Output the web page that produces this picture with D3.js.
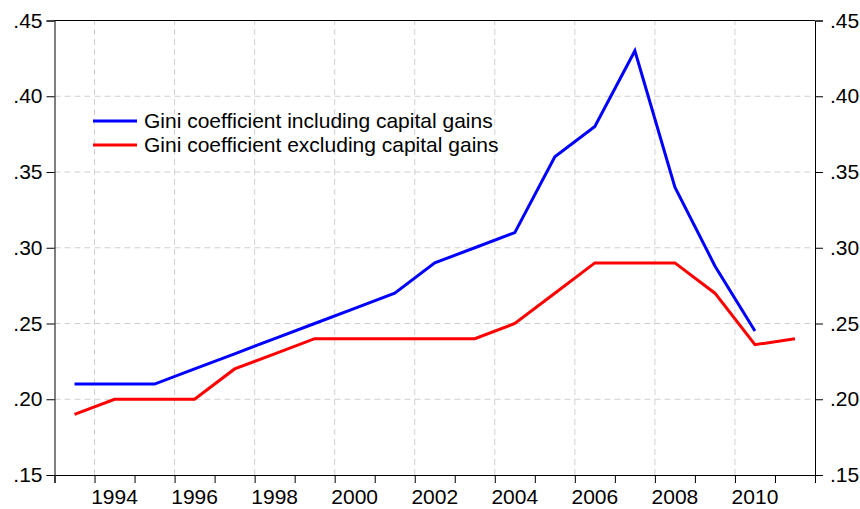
<!DOCTYPE html>
<html>
<head>
<meta charset="utf-8">
<script src="https://cdn.jsdelivr.net/npm/d3@7/dist/d3.min.js"></script>
<style>
  body { margin: 0; background: #fff; }
  svg { display: block; }
</style>
</head>
<body>
<svg id="chart"></svg>
<script>
// annual observations, plotted at the middle of each year
const years = [1993, 1994, 1995, 1996, 1997, 1998, 1999, 2000, 2001, 2002,
               2003, 2004, 2005, 2006, 2007, 2008, 2009, 2010, 2011];
const giniIncl = [0.21, 0.21, 0.21, 0.22, 0.23, 0.24, 0.25, 0.26, 0.27, 0.29,
                  0.30, 0.31, 0.36, 0.38, 0.43, 0.34, 0.288, 0.245, null];
const giniExcl = [0.19, 0.20, 0.20, 0.20, 0.22, 0.23, 0.24, 0.24, 0.24, 0.24,
                  0.24, 0.25, 0.27, 0.29, 0.29, 0.29, 0.27, 0.236, 0.24];
const yTicks = [0.15, 0.20, 0.25, 0.30, 0.35, 0.40, 0.45];
const labelYears = [1994, 1996, 1998, 2000, 2002, 2004, 2006, 2008, 2010];
const seriesNames = ["Gini coefficient including capital gains",
                     "Gini coefficient excluding capital gains"];
const seriesColors = ["#0000ff", "#ff0000"];

const width = 860, height = 509;
const margin = {top: 20.5, right: 45, bottom: 34, left: 54.5};
const fontSize = "21px";

const svg = d3.select("#chart")
    .attr("width", width)
    .attr("height", height)
    .style("font-family", "Arial, 'Liberation Sans', sans-serif");

const x = d3.scaleLinear()
    .domain([1993, 2012])
    .range([margin.left, width - margin.right]);

const y = d3.scaleLinear()
    .domain([0.15, 0.45])
    .range([height - margin.bottom, margin.top]);

const fmt = v => d3.format(".2f")(v).replace(/^0/, "");

// grid
svg.append("g")
    .selectAll("line")
    .data(yTicks.filter(d => d > 0.15 && d < 0.45))
    .join("line")
    .attr("x1", x.range()[0]).attr("x2", x.range()[1])
    .attr("y1", d => y(d)).attr("y2", d => y(d))
    .attr("stroke", "#d0d0d0")
    .attr("stroke-dasharray", "6,4");

svg.append("g")
    .selectAll("line")
    .data(labelYears)
    .join("line")
    .attr("x1", d => x(d)).attr("x2", d => x(d))
    .attr("y1", y.range()[0]).attr("y2", y.range()[1])
    .attr("stroke", "#d0d0d0")
    .attr("stroke-dasharray", "6,4");

// axes
const tickYears = d3.range(1993, 2013);

svg.append("g")
    .attr("transform", `translate(0,${y.range()[0]})`)
    .call(d3.axisBottom(x).tickValues(tickYears).tickSize(8).tickFormat(""))
    .call(g => g.select(".domain").attr("stroke", "#000"));

svg.append("g")
    .selectAll("text")
    .data(labelYears)
    .join("text")
    .attr("x", d => x(d + 0.5))
    .attr("y", height - 5)
    .attr("text-anchor", "middle")
    .style("font-size", fontSize)
    .text(d => d);

svg.append("g")
    .attr("transform", `translate(${x.range()[0]},0)`)
    .call(d3.axisLeft(y).tickValues(yTicks).tickSize(8).tickPadding(4).tickFormat(fmt))
    .call(g => g.selectAll("text").style("font-size", fontSize).attr("fill", "#000"));

svg.append("g")
    .attr("transform", `translate(${x.range()[1]},0)`)
    .call(d3.axisRight(y).tickValues(yTicks).tickSize(8).tickPadding(7).tickFormat(fmt))
    .call(g => g.selectAll("text").style("font-size", fontSize).attr("fill", "#000"));

// top frame
svg.append("line")
    .attr("x1", x.range()[0]).attr("x2", x.range()[1])
    .attr("y1", y.range()[1]).attr("y2", y.range()[1])
    .attr("stroke", "#000");

// series
const line = d3.line()
    .defined(d => d[1] != null)
    .x(d => x(d[0] + 0.5))
    .y(d => y(d[1]));

[giniIncl, giniExcl].forEach((vals, i) => {
    svg.append("path")
        .datum(years.map((yr, j) => [yr, vals[j]]))
        .attr("fill", "none")
        .attr("stroke", seriesColors[i])
        .attr("stroke-width", 3)
        .attr("d", line);
});

// legend
const legend = svg.append("g").attr("transform", "translate(93,121)");
seriesNames.forEach((name, i) => {
    const row = legend.append("g").attr("transform", `translate(0,${i * 24})`);
    row.append("line")
        .attr("x1", 0).attr("x2", 44)
        .attr("stroke", seriesColors[i])
        .attr("stroke-width", 3);
    row.append("text")
        .attr("x", 51)
        .attr("dy", "0.35em")
        .style("font-size", fontSize)
        .text(name);
});
</script>
</body>
</html>
